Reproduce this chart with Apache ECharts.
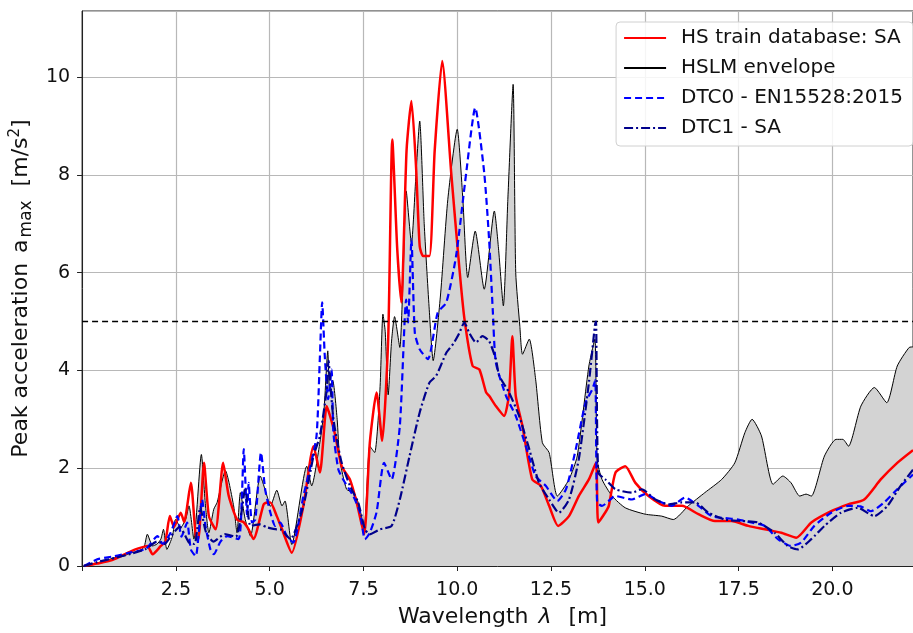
<!DOCTYPE html>
<html>
<head>
<meta charset="utf-8">
<script src="https://cdn.jsdelivr.net/npm/echarts@6/dist/echarts.min.js"></script>
<style>
  html, body { margin: 0; padding: 0; background: #fff; }
  #chart { width: 913px; height: 633px; }
</style>
</head>
<body>
<div id="chart"></div>
<script>
// peak acceleration vs wavelength, values as [lambda, a_max]
const hsTrain = [
  [0.05, 0], [0.4, 0.05], [0.8, 0.12], [1.3, 0.3], [1.5, 0.36], [1.74, 0.41], [1.88, 0.24],
  [2.1, 0.41], [2.22, 0.5], [2.34, 1.02], [2.45, 0.8], [2.63, 1.09], [2.72, 0.9], [2.9, 1.7],
  [3.03, 0.61], [3.1, 0.55], [3.25, 2.11], [3.38, 1.02], [3.56, 0.75], [3.76, 2.11], [3.91, 1.43],
  [4.13, 0.95], [4.3, 0.9], [4.44, 0.75], [4.57, 0.55], [4.84, 1.26], [4.93, 1.3], [5.02, 1.3],
  [5.19, 1.02], [5.33, 0.75], [5.59, 0.27], [5.9, 1.23], [6.17, 2.45], [6.34, 1.91], [6.52, 3.27],
  [6.61, 3.07], [6.74, 2.7], [6.92, 2.04], [7.14, 1.77], [7.32, 1.3], [7.52, 0.65], [7.67, 2.52],
  [7.85, 3.55], [8.0, 2.56], [8.16, 4.64], [8.27, 8.72], [8.4, 6.5], [8.51, 5.39], [8.65, 8.5],
  [8.78, 9.51], [8.9, 8.2], [9.0, 6.54], [9.09, 6.34], [9.26, 6.34], [9.4, 8.5], [9.6, 10.33],
  [9.84, 8.04], [10.06, 6.07], [10.19, 5.07], [10.41, 4.09], [10.59, 4.02], [10.77, 3.55],
  [10.85, 3.48], [11.03, 3.27], [11.25, 3.07], [11.38, 3.5], [11.47, 4.7], [11.56, 3.48],
  [11.74, 2.86], [12.0, 1.77], [12.23, 1.64], [12.45, 1.23], [12.69, 0.82], [12.98, 1.02],
  [13.24, 1.43], [13.51, 1.77], [13.7, 2.11], [13.76, 0.89], [13.95, 1.1], [14.04, 1.23],
  [14.22, 1.91], [14.48, 2.04], [14.75, 1.7], [15.1, 1.43], [15.54, 1.23], [15.99, 1.23],
  [16.43, 1.06], [16.87, 0.92], [17.31, 0.92], [17.76, 0.82], [18.2, 0.75], [18.64, 0.68],
  [19.04, 0.58], [19.44, 0.89], [19.97, 1.12], [20.42, 1.26], [20.85, 1.36], [21.29, 1.77],
  [21.73, 2.11], [22.15, 2.37]
];

const hslmEnvelope = [
  [0.05, 0], [0.3, 0.05], [0.6, 0.1], [0.86, 0.17], [1.1, 0.2], [1.3, 0.27], [1.5, 0.3],
  [1.65, 0.38], [1.74, 0.65], [1.88, 0.41], [2.0, 0.45], [2.1, 0.55], [2.17, 0.75], [2.26, 0.34],
  [2.41, 0.61], [2.49, 0.95], [2.63, 0.79], [2.76, 0.95], [2.85, 1.23], [2.98, 0.55], [3.18, 2.28],
  [3.29, 1.23], [3.38, 0.68], [3.51, 1.16], [3.6, 1.3], [3.82, 1.95], [4.04, 1.23], [4.13, 0.68],
  [4.22, 1.5], [4.35, 0.95], [4.49, 0.61], [4.75, 1.84], [4.93, 1.43], [5.02, 1.22], [5.19, 1.55],
  [5.33, 1.23], [5.41, 1.33], [5.59, 0.44], [5.99, 2.04], [6.12, 1.64], [6.34, 2.53], [6.45, 3.2],
  [6.55, 4.4], [6.6, 3.6], [6.68, 3.8], [6.8, 3.0], [6.87, 2.18], [7.05, 1.57], [7.23, 1.5],
  [7.36, 1.3], [7.52, 0.8], [7.67, 2.45], [7.8, 2.32], [7.94, 3.6], [8.02, 5.15], [8.08, 4.8],
  [8.16, 3.5], [8.25, 4.6], [8.33, 5.1], [8.47, 4.47], [8.56, 6.0], [8.64, 7.67], [8.78, 6.6],
  [8.9, 8.0], [9.0, 9.1], [9.12, 7.0], [9.25, 5.3], [9.36, 4.2], [9.55, 5.5], [9.75, 7.5],
  [10.0, 8.93], [10.15, 7.5], [10.28, 5.9], [10.48, 6.85], [10.72, 5.66], [10.99, 7.26],
  [11.1, 6.5], [11.23, 5.32], [11.35, 7.5], [11.49, 9.85], [11.56, 6.0], [11.67, 4.9],
  [11.74, 4.33], [11.92, 4.64], [12.09, 3.82], [12.27, 2.52], [12.45, 2.32], [12.67, 1.43],
  [12.98, 1.77], [13.2, 2.25], [13.51, 4.09], [13.67, 4.64], [13.73, 2.18], [13.86, 1.77],
  [14.13, 1.43], [14.48, 1.19], [15.01, 1.06], [15.45, 1.02], [15.76, 0.95], [16.16, 1.23],
  [16.6, 1.5], [17.05, 1.77], [17.4, 2.11], [17.67, 2.73], [17.86, 3.0], [18.11, 2.66],
  [18.42, 1.67], [18.68, 1.84], [18.9, 1.7], [19.13, 1.43], [19.3, 1.47], [19.44, 1.43],
  [19.79, 2.25], [20.1, 2.59], [20.28, 2.59], [20.43, 2.45], [20.76, 3.27], [21.12, 3.65],
  [21.45, 3.34], [21.73, 4.09], [22.05, 4.47], [22.15, 4.48]
];

const dtc0 = [
  [0.05, 0], [0.42, 0.14], [0.86, 0.2], [1.3, 0.28], [1.7, 0.35], [2.01, 0.61], [2.15, 0.45],
  [2.36, 0.68], [2.54, 1.02], [2.65, 0.6], [2.8, 0.89], [2.9, 0.34], [3.03, 0.2], [3.2, 1.36],
  [3.29, 0.82], [3.42, 0.34], [3.51, 0.24], [3.69, 0.5], [3.87, 0.61], [4.17, 0.55], [4.25, 1.2],
  [4.31, 2.39], [4.4, 1.02], [4.44, 1.7], [4.53, 0.89], [4.62, 0.95], [4.77, 2.32], [4.88, 1.57],
  [5.02, 1.09], [5.15, 0.82], [5.28, 0.89], [5.46, 0.61], [5.63, 0.48], [5.9, 1.43], [6.07, 1.98],
  [6.25, 2.66], [6.34, 4.29], [6.4, 5.39], [6.47, 4.29], [6.56, 3.41], [6.65, 4.02], [6.7, 2.73],
  [6.83, 1.98], [6.96, 1.77], [7.23, 1.43], [7.41, 1.09], [7.54, 0.55], [7.67, 0.68], [7.85, 1.1],
  [8.05, 2.11], [8.25, 1.77], [8.47, 2.86], [8.64, 5.45], [8.69, 4.98], [8.78, 6.68], [8.87, 4.77],
  [9.0, 4.43], [9.22, 4.23], [9.48, 5.18], [9.71, 5.39], [9.97, 6.34], [10.24, 8.04], [10.48, 9.37],
  [10.72, 8.04], [10.85, 6.68], [10.95, 5.2], [11.03, 4.16], [11.3, 3.48], [11.56, 3.07],
  [11.83, 2.45], [12.09, 1.84], [12.36, 1.64], [12.67, 1.33], [12.9, 1.57], [13.16, 2.39],
  [13.42, 3.34], [13.6, 3.61], [13.68, 3.8], [13.73, 1.3], [13.86, 1.23], [14.22, 1.43],
  [14.66, 1.36], [15.01, 1.47], [15.37, 1.33], [15.72, 1.23], [16.07, 1.4], [16.43, 1.23],
  [16.78, 1.02], [17.14, 0.98], [17.49, 0.95], [17.84, 0.89], [18.2, 0.82], [18.55, 0.55],
  [18.9, 0.41], [19.17, 0.48], [19.52, 0.82], [19.97, 1.09], [20.42, 1.23], [20.75, 1.22],
  [21.03, 1.12], [21.38, 1.3], [21.73, 1.57], [22.15, 1.87]
];

const dtc1 = [
  [0.05, 0], [0.4, 0.08], [0.9, 0.17], [1.3, 0.25], [1.7, 0.35], [2.0, 0.5], [2.2, 0.45],
  [2.36, 0.6], [2.6, 0.8], [2.85, 0.48], [3.0, 0.45], [3.15, 1.2], [3.3, 0.7], [3.5, 0.5],
  [3.8, 0.65], [4.1, 0.6], [4.25, 1.1], [4.35, 1.6], [4.49, 0.82], [4.75, 0.85], [4.93, 0.79],
  [5.19, 0.75], [5.28, 0.75], [5.55, 0.55], [5.9, 1.23], [6.17, 2.25], [6.34, 2.66], [6.52, 3.6],
  [6.57, 4.2], [6.63, 3.6], [6.7, 3.0], [6.79, 2.59], [6.92, 2.11], [7.14, 1.64], [7.36, 1.3],
  [7.54, 0.75], [7.67, 0.65], [7.94, 0.75], [8.25, 0.82], [8.47, 1.36], [8.73, 2.25], [9.0, 3.14],
  [9.26, 3.75], [9.44, 3.89], [9.71, 4.36], [9.9, 4.55], [10.06, 4.77], [10.19, 4.98],
  [10.32, 4.77], [10.5, 4.57], [10.67, 4.7], [10.85, 4.6], [11.03, 4.23], [11.12, 3.89],
  [11.38, 3.55], [11.65, 3.07], [11.92, 2.39], [12.18, 1.7], [12.45, 1.36], [12.71, 1.09],
  [12.98, 1.36], [13.24, 2.18], [13.51, 3.75], [13.67, 4.91], [13.7, 5.0], [13.76, 1.91],
  [13.95, 1.77], [14.22, 1.57], [14.66, 1.5], [14.92, 1.57], [15.28, 1.36], [15.63, 1.26],
  [15.99, 1.3], [16.34, 1.3], [16.7, 1.09], [17.14, 0.95], [17.58, 0.92], [18.02, 0.89],
  [18.46, 0.68], [18.81, 0.41], [19.08, 0.34], [19.44, 0.55], [19.79, 0.82], [20.23, 1.09],
  [20.67, 1.19], [21.12, 1.02], [21.47, 1.23], [21.82, 1.64], [22.15, 1.97]
];

const seriesNames = ['HS train database: SA', 'HSLM envelope', 'DTC0 - EN15528:2015', 'DTC1 - SA'];
const limitValue = 5;

const font = 'DejaVu Sans';
const chart = echarts.init(document.getElementById('chart'), null, { renderer: 'canvas' });

const option = {
  animation: false,
  backgroundColor: '#fff',
  grid: {
    left: 81, top: 11, width: 834, height: 556,
    show: true, borderColor: '#222', borderWidth: 1, backgroundColor: 'transparent'
  },
  legend: {
    data: seriesNames,
    orient: 'vertical',
    right: 0, top: 22,
    itemWidth: 42, itemHeight: 14, itemGap: 10,
    padding: [6, 10, 8, 7],
    backgroundColor: 'rgba(255,255,255,0.85)',
    borderColor: '#d0d0d0', borderWidth: 1, borderRadius: 4,
    itemStyle: { opacity: 0 },
    textStyle: { fontFamily: font, fontSize: 20, color: '#111', padding: [0, 0, 0, 10] }
  },
  xAxis: {
    type: 'value',
    min: 0, max: 22.15, interval: 2.5,
    name: 'Wavelength {i|λ}  [m]',
    nameLocation: 'middle', nameGap: 40,
    nameTextStyle: {
      fontFamily: font, fontSize: 22, color: '#111', padding: [0, 0, 0, 10],
      rich: { i: { fontFamily: font, fontSize: 22, fontStyle: 'italic', color: '#111', padding: [0, 3, 0, 3] } }
    },
    axisLine: { lineStyle: { color: '#222', width: 1 } },
    axisTick: { show: true, length: 5, lineStyle: { color: '#222' } },
    axisLabel: {
      fontFamily: font, fontSize: 19, color: '#111', margin: 15,
      showMaxLabel: false,
      formatter: (v) => (v === 0 ? '' : v.toFixed(1))
    },
    splitLine: { show: true, lineStyle: { color: '#b8b8b8', width: 1.2 } }
  },
  yAxis: {
    type: 'value',
    min: 0, max: 11.35, interval: 2,
    name: 'Peak acceleration {a|a}{sub|max}  [m/s{sup|2}]',
    nameLocation: 'middle', nameGap: 45,
    nameTextStyle: {
      fontFamily: font, fontSize: 22, color: '#111', lineHeight: 27,
      rich: {
        a: { fontFamily: font, fontSize: 22, color: '#111', padding: [0, 2, 0, 3] },
        sub: { fontFamily: font, fontSize: 17, color: '#111', verticalAlign: 'bottom', lineHeight: 23 },
        sup: { fontFamily: font, fontSize: 15, color: '#111', verticalAlign: 'top', lineHeight: 16 }
      }
    },
    axisLine: { show: true, lineStyle: { color: '#222', width: 1 } },
    axisTick: { show: true, length: 5, lineStyle: { color: '#222' } },
    axisLabel: {
      fontFamily: font, fontSize: 19, color: '#111', margin: 12,
      showMaxLabel: false,
      formatter: (v) => (v % 2 === 0 ? String(v) : '')
    },
    splitLine: { show: true, lineStyle: { color: '#b8b8b8', width: 1.2 } }
  },
  series: [
    {
      name: seriesNames[1],
      type: 'line',
      data: hslmEnvelope,
      symbol: 'none',
      smooth: 0.2,
      z: 2,
      lineStyle: { color: '#000', width: 1 },
      itemStyle: { color: '#000' },
      areaStyle: { color: '#d3d3d3', opacity: 1 },
      markLine: {
        silent: true,
        symbol: ['none', 'none'],
        label: { show: false },
        lineStyle: { color: '#000', type: [6, 4], width: 1.3 },
        data: [{ yAxis: limitValue }]
      }
    },
    {
      name: seriesNames[0],
      type: 'line',
      data: hsTrain,
      symbol: 'none',
      smooth: 0.2,
      z: 3,
      lineStyle: { color: '#ff0000', width: 2.5 },
      itemStyle: { color: '#ff0000' }
    },
    {
      name: seriesNames[2],
      type: 'line',
      data: dtc0,
      symbol: 'none',
      smooth: 0.2,
      z: 4,
      lineStyle: { color: '#0000ff', width: 2.2, type: [7, 4] },
      itemStyle: { color: '#0000ff' }
    },
    {
      name: seriesNames[3],
      type: 'line',
      data: dtc1,
      symbol: 'none',
      smooth: 0.2,
      z: 5,
      lineStyle: { color: '#00008b', width: 2.2, type: [9, 3, 2, 3] },
      itemStyle: { color: '#00008b' }
    }
  ]
};

chart.setOption(option);
window.onresize = function () {
  chart.resize();
};
</script>
</body>
</html>
